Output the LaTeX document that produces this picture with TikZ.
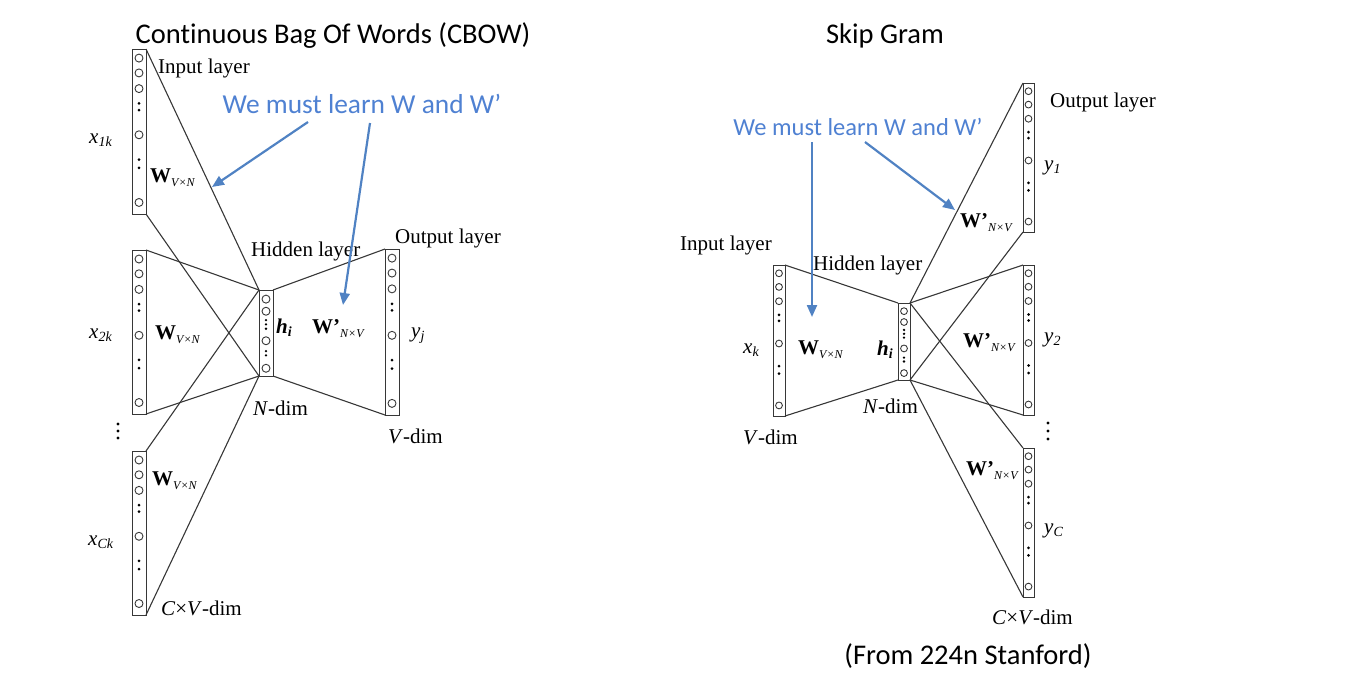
\documentclass[tikz,border=0pt]{standalone}
\usepackage{fontspec}
\setmainfont{Liberation Serif}
\newfontfamily\calf[Ligatures=NoCommon]{Carlito}
\usetikzlibrary{calc,arrows.meta}
\definecolor{ln}{RGB}{55,55,55}
\definecolor{bluetxt}{RGB}{79,129,210}
\definecolor{bluearr}{RGB}{80,130,195}
\newcommand\vsub[1]{\raisebox{-0.45ex}{\fontsize{12}{12}\selectfont\itshape #1}}
\newcommand\Wl{\textbf{W}\vsub{V×N}}
\newcommand\Wp{\textbf{W'}\vsub{N×V}}
\newcommand\isub[2]{\textit{#1}\raisebox{-0.4ex}{\fontsize{14}{14}\selectfont\itshape #2}}
\newcommand\drawvec[2]{%
  \foreach \f in {0.055,0.145,0.24,0.52,0.93}
    \draw[ln,line width=0.9pt] ($(#1.north)!\f!(#1.south)$) circle[radius=#2];
  \foreach \f in {0.33,0.37,0.67,0.72}
    \fill ($(#1.north)!\f!(#1.south)$) circle[radius=1.5pt];
}
\newcommand\drawhid[2]{%
  \foreach \f in {0.106,0.247,0.59,0.91}
    \draw[ln,line width=0.9pt] ($(#1.north)!\f!(#1.south)$) circle[radius=#2];
  \foreach \f in {0.35,0.40,0.45,0.71,0.76}
    \fill ($(#1.north)!\f!(#1.south)$) circle[radius=1.3pt];
}
\tikzset{
  vecbox/.style={draw=ln, line width=1pt, inner sep=0pt, outer sep=0pt, anchor=north west},
  conn/.style={ln, line width=1.1pt},
  lbl/.style={anchor=base west, inner sep=0pt, font=\fontsize{21}{24}\selectfont},
  ttl/.style={anchor=base, inner sep=0pt, font=\calf\fontsize{28.5}{32}\selectfont},
  bl/.style={anchor=base, inner sep=0pt, text=bluetxt},
  barr/.style={bluearr, line width=2.2pt, -{Triangle[length=12pt,width=10pt]}},
}
\begin{document}
\begin{tikzpicture}[x=1pt,y=-1pt]
\useasboundingbox (0,0) rectangle (1368,689);
% ---------- CBOW ----------
\node[ttl] (t1) at (333,43) {Continuous Bag Of Words (CBOW)};
\node[vecbox, minimum width=14pt, minimum height=165pt] (in1) at (132,49) {};
\node[vecbox, minimum width=14pt, minimum height=164pt] (in2) at (132,250) {};
\node[vecbox, minimum width=14pt, minimum height=164pt] (in3) at (132,451) {};
\node[vecbox, minimum width=14pt, minimum height=86pt] (hidL) at (259,290) {};
\node[vecbox, minimum width=14pt, minimum height=166pt] (outL) at (385,249) {};
\drawvec{in1}{4pt}
\drawvec{in2}{4pt}
\drawvec{in3}{4pt}
\drawvec{outL}{4pt}
\drawhid{hidL}{4pt}
\foreach \v in {in1,in2,in3}{
  \draw[conn] (\v.north east) -- (hidL.north west);
  \draw[conn] (\v.south east) -- (hidL.south west);
}
\draw[conn] (hidL.north east) -- (outL.north west);
\draw[conn] (hidL.south east) -- (outL.south west);
\node[lbl] (il1) at (158,73) {Input layer};
\node[lbl] (hl1) at (251,256) {Hidden layer};
\node[lbl] (ol1) at (395,243) {Output layer};
\node[lbl] (nd1) at (253,415) {\textit{N}-dim};
\node[lbl] (vd1) at (388,443) {\textit{V}-dim};
\node[lbl] (cv1) at (161,615) {\textit{C}×\textit{V}-dim};
\node[lbl] (x1) at (89,143) {\isub{x}{1k}};
\node[lbl] (x2) at (89,338) {\isub{x}{2k}};
\node[lbl] (x3) at (88,545) {\isub{x}{Ck}};
\node[lbl] (w1) at (150,182) {\Wl};
\node[lbl] (w2) at (155,339) {\Wl};
\node[lbl] (w3) at (152,485) {\Wl};
\node[lbl] (h1) at (276,333) {\textbf{\isub{h}{i}}};
\node[lbl] (wp1) at (312,333) {\Wp};
\node[lbl] (yj) at (411,337) {\isub{y}{j}};
\foreach \yy in {424,431,438} \fill (118,\yy) circle[radius=1.6pt];
\node[bl, font=\calf\fontsize{27.4}{30}\selectfont] (b1) at (362,113) {We must learn W and W’};
\coordinate (a1s) at (308,122);
\coordinate (a1e) at (212,187);
\coordinate (a2s) at (370,123);
\coordinate (a2e) at (343,305);
\draw[barr] (a1s) -- (a1e);
\draw[barr] (a2s) -- (a2e);
% ---------- Skip Gram ----------
\node[ttl] (t2) at (885,43) {Skip Gram};
\node[vecbox, minimum width=12pt, minimum height=151pt] (inR) at (773,265) {};
\node[vecbox, minimum width=12pt, minimum height=77pt] (hidR) at (898,303) {};
\node[vecbox, minimum width=11pt, minimum height=149pt] (o1) at (1023,83) {};
\node[vecbox, minimum width=11pt, minimum height=150pt] (o2) at (1023,265) {};
\node[vecbox, minimum width=11pt, minimum height=149pt] (o3) at (1023,448) {};
\drawvec{inR}{3.4pt}
\drawvec{o1}{3.4pt}
\drawvec{o2}{3.4pt}
\drawvec{o3}{3.4pt}
\drawhid{hidR}{3.4pt}
\draw[conn] (inR.north east) -- (hidR.north west);
\draw[conn] (inR.south east) -- (hidR.south west);
\foreach \v in {o1,o2,o3}{
  \draw[conn] (hidR.north east) -- (\v.north west);
  \draw[conn] (hidR.south east) -- (\v.south west);
}
\node[lbl] (il2) at (680,250) {Input layer};
\node[lbl] (hl2) at (813,270) {Hidden layer};
\node[lbl] (ol2) at (1050,107) {Output layer};
\node[lbl] (xk) at (743,353) {\isub{x}{k}};
\node[lbl] (w4) at (798,354) {\Wl};
\node[lbl] (h2) at (877,355) {\textbf{\isub{h}{i}}};
\node[lbl] (nd2) at (863,413) {\textit{N}-dim};
\node[lbl] (vd2) at (743,444) {\textit{V}-dim};
\node[lbl] (y1) at (1044,170) {\isub{y}{1}};
\node[lbl] (wp2) at (960,227) {\Wp};
\node[lbl] (y2) at (1044,342) {\isub{y}{2}};
\node[lbl] (wp3) at (963,347) {\Wp};
\node[lbl] (wp4) at (966,475) {\Wp};
\node[lbl] (yc) at (1044,533) {\isub{y}{C}};
\node[lbl] (cv2) at (992,624) {\textit{C}×\textit{V}-dim};
\foreach \yy in {423,431,439} \fill (1048,\yy) circle[radius=1.6pt];
\node[bl, font=\calf\fontsize{24.5}{28}\selectfont] (b2) at (858,135) {We must learn W and W’};
\coordinate (a3s) at (812,142);
\coordinate (a3e) at (812,317);
\coordinate (a4s) at (865,142);
\coordinate (a4e) at (955,210);
\draw[barr] (a3s) -- (a3e);
\draw[barr] (a4s) -- (a4e);
\node[ttl] (src) at (968,664) {(From 224n Stanford)};
\end{tikzpicture}
\end{document}
